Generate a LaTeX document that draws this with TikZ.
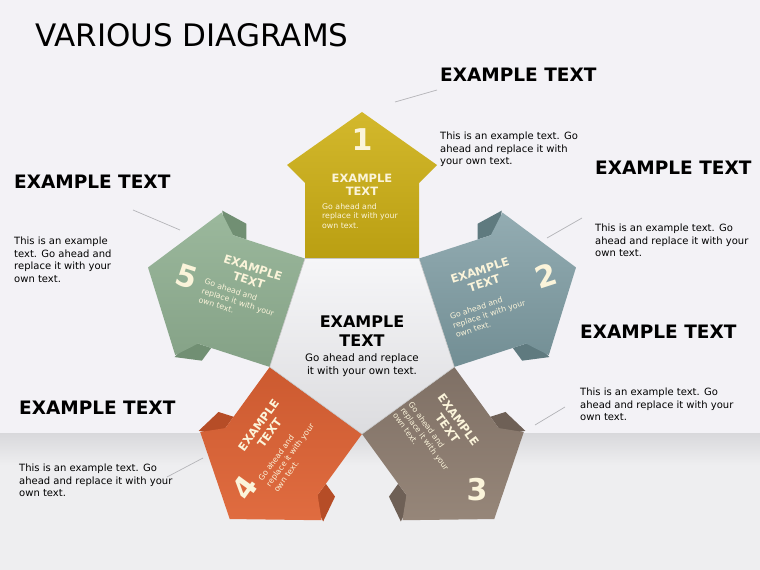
\documentclass[tikz,border=0pt]{standalone}
\usepackage{fontspec}
\setmainfont{DejaVu Sans}
\usetikzlibrary{positioning,shapes.geometric}

\definecolor{bgcol}{HTML}{F3F2F6}
\definecolor{floortop}{HTML}{D9D9DC}
\definecolor{floorbot}{HTML}{EEEEF0}
\definecolor{leadgray}{HTML}{B4B4B8}
\definecolor{yellowa}{HTML}{D3B82C}
\definecolor{yellowb}{HTML}{BA9F12}
\definecolor{bluea}{HTML}{93ACB2}
\definecolor{blueb}{HTML}{728E94}
\definecolor{bluefold}{HTML}{5F7A7F}
\definecolor{browna}{HTML}{968679}
\definecolor{brownb}{HTML}{7F7065}
\definecolor{brownfold}{HTML}{6E6056}
\definecolor{orangea}{HTML}{E06C40}
\definecolor{orangeb}{HTML}{CC5A30}
\definecolor{orangefold}{HTML}{B64D27}
\definecolor{greena}{HTML}{9BB89C}
\definecolor{greenb}{HTML}{84A186}
\definecolor{greenfold}{HTML}{718F73}
\definecolor{cream}{HTML}{FBF4DA}
\definecolor{pentlight}{HTML}{F6F6F8}
\definecolor{pentdark}{HTML}{DCDCDF}

\begin{document}
\begin{tikzpicture}[x=1pt, y=1pt]
\tikzstyle{bigtitle}   = [anchor=base west, inner sep=0pt, font=\fontsize{31}{36}\selectfont]
\tikzstyle{heading}    = [anchor=base west, inner sep=0pt, font=\fontsize{18.5}{22}\selectfont\bfseries]
\tikzstyle{blurb}      = [anchor=north west, inner sep=0pt, align=left, font=\fontsize{10}{12.5}\selectfont]
\tikzstyle{leader}     = [leadgray, line width=0.7pt]
\tikzstyle{arrowtitle} = [text=cream, align=center, inner sep=0pt, font=\fontsize{11.5}{13.5}\selectfont\bfseries]
\tikzstyle{arrowtext}  = [text=cream, align=left, inner sep=0pt, font=\fontsize{7.8}{9.6}\selectfont]
\tikzstyle{arrownum}   = [text=cream, inner sep=0pt, font=\fontsize{30}{30}\selectfont\bfseries]
\tikzstyle{pentbox}    = [regular polygon, regular polygon sides=5, shape border rotate=180,
                          minimum size=194pt, inner sep=0pt, draw=gray!45, line width=0.6pt,
                          top color=pentlight, bottom color=pentdark]
\tikzstyle{centertitle} = [align=center, inner sep=0pt, font=\fontsize{16}{19}\selectfont\bfseries]
\tikzstyle{centertext}  = [align=center, inner sep=0pt, font=\fontsize{10.3}{12.5}\selectfont]

\fill[bgcol] (0,0) rectangle (760,570);
\shade[top color=floortop, bottom color=floorbot] (0,105) rectangle (760,136);
\fill[floorbot] (0,0) rectangle (760,105);
\useasboundingbox (0,0) rectangle (760,570);

\node (title) [bigtitle] at (35,523) {VARIOUS DIAGRAMS};

\begin{scope}[shift={(362,233)}]
  \shade[top color=yellowa, bottom color=yellowb]
    (-57,78.5) -- (-57,154) -- (-75,172) -- (0,225) -- (75,172) -- (57,154) -- (57,78.5) -- cycle;
  \begin{scope}[rotate=-72]
    \fill[bluefold] (-57,140) -- (-72,145) -- (-77,172) -- (-57,162) -- cycle;
    \fill[bluefold] (57,140) -- (72,145) -- (77,172) -- (57,162) -- cycle;
    \shade[top color=bluea, bottom color=blueb]
      (-57,78.5) -- (-57,154) -- (-75,172) -- (0,225) -- (75,172) -- (57,154) -- (57,78.5) -- cycle;
  \end{scope}
  \begin{scope}[rotate=-144]
    \fill[brownfold] (-57,140) -- (-72,145) -- (-77,172) -- (-57,162) -- cycle;
    \fill[brownfold] (57,140) -- (72,145) -- (77,172) -- (57,162) -- cycle;
    \shade[top color=brownb, bottom color=browna]
      (-57,78.5) -- (-57,154) -- (-75,172) -- (0,225) -- (75,172) -- (57,154) -- (57,78.5) -- cycle;
  \end{scope}
  \begin{scope}[rotate=144]
    \fill[orangefold] (-57,140) -- (-72,145) -- (-77,172) -- (-57,162) -- cycle;
    \fill[orangefold] (57,140) -- (72,145) -- (77,172) -- (57,162) -- cycle;
    \shade[top color=orangeb, bottom color=orangea]
      (-57,78.5) -- (-57,154) -- (-75,172) -- (0,225) -- (75,172) -- (57,154) -- (57,78.5) -- cycle;
  \end{scope}
  \begin{scope}[rotate=72]
    \fill[greenfold] (-57,140) -- (-72,145) -- (-77,172) -- (-57,162) -- cycle;
    \fill[greenfold] (57,140) -- (72,145) -- (77,172) -- (57,162) -- cycle;
    \shade[top color=greena, bottom color=greenb]
      (-57,78.5) -- (-57,154) -- (-75,172) -- (0,225) -- (75,172) -- (57,154) -- (57,78.5) -- cycle;
  \end{scope}
\end{scope}

\node (pentagon) [pentbox] at (362,233) {};
\node (ctitle) [centertitle] at (362,239) {EXAMPLE\\TEXT};
\node (ctext)  [centertext, below=7pt of ctitle] {Go ahead and replace\\it with your own text.};

\node (num1)   [arrownum]   at (362,430) {1};
\node (title1) [arrowtitle] at (362,385) {EXAMPLE\\TEXT};
\node (text1)  [arrowtext, anchor=west] at (322,354) {Go ahead and\\replace it with your\\own text.};

\node (num2)   [arrownum, rotate=18]   at (546,294) {2};
\node (title2) [arrowtitle, rotate=18] at (482,293) {EXAMPLE\\TEXT};
\node (text2)  [arrowtext, rotate=18]  at (489,256) {Go ahead and\\replace it with your\\own text.};

\node (num3)   [arrownum]               at (477,80)  {3};
\node (title3) [arrowtitle, rotate=-54] at (453,146) {EXAMPLE\\TEXT};
\node (text3)  [arrowtext, rotate=-54]  at (425,131) {Go ahead and\\replace it with your\\own text.};

\node (num4)   [arrownum, rotate=54]   at (245,82)  {4};
\node (title4) [arrowtitle, rotate=54] at (264,141) {EXAMPLE\\TEXT};
\node (text4)  [arrowtext, rotate=54]  at (290,115) {Go ahead and\\replace it with your\\own text.};

\node (num5)   [arrownum, rotate=-18]   at (187,293) {5};
\node (title5) [arrowtitle, rotate=-18] at (251,296) {EXAMPLE\\TEXT};
\node (text5)  [arrowtext, rotate=-18]  at (238,268) {Go ahead and\\replace it with your\\own text.};

\node (head1)  [heading] at (440,488) {EXAMPLE TEXT};
\node (blurb1) [blurb]   at (440,438) {This is an example text. Go\\ahead and replace it with\\your own text.};
\node (head2)  [heading] at (595,395) {EXAMPLE TEXT};
\node (blurb2) [blurb]   at (595,346) {This is an example text. Go\\ahead and replace it with your\\own text.};
\node (head3)  [heading] at (580,231) {EXAMPLE TEXT};
\node (blurb3) [blurb]   at (580,182) {This is an example text. Go\\ahead and replace it with your\\own text.};
\node (head4)  [heading] at (19,155)  {EXAMPLE TEXT};
\node (blurb4) [blurb]   at (19,106)  {This is an example text. Go\\ahead and replace it with your\\own text.};
\node (head5)  [heading] at (14,381)  {EXAMPLE TEXT};
\node (blurb5) [blurb]   at (14,333)  {This is an example\\text. Go ahead and\\replace it with your\\own text.};

\coordinate (lead1a) at (395,468);
\coordinate (lead1b) at (437,480);
\coordinate (lead2a) at (547,332);
\coordinate (lead2b) at (582,352);
\coordinate (lead3a) at (535,145);
\coordinate (lead3b) at (565,163);
\coordinate (lead4a) at (167,93);
\coordinate (lead4b) at (203,112);
\coordinate (lead5a) at (133,360);
\coordinate (lead5b) at (180,340);

\draw [leader] (lead1a) -- (lead1b);
\draw [leader] (lead2a) -- (lead2b);
\draw [leader] (lead3a) -- (lead3b);
\draw [leader] (lead4a) -- (lead4b);
\draw [leader] (lead5a) -- (lead5b);
\end{tikzpicture}
\end{document}
